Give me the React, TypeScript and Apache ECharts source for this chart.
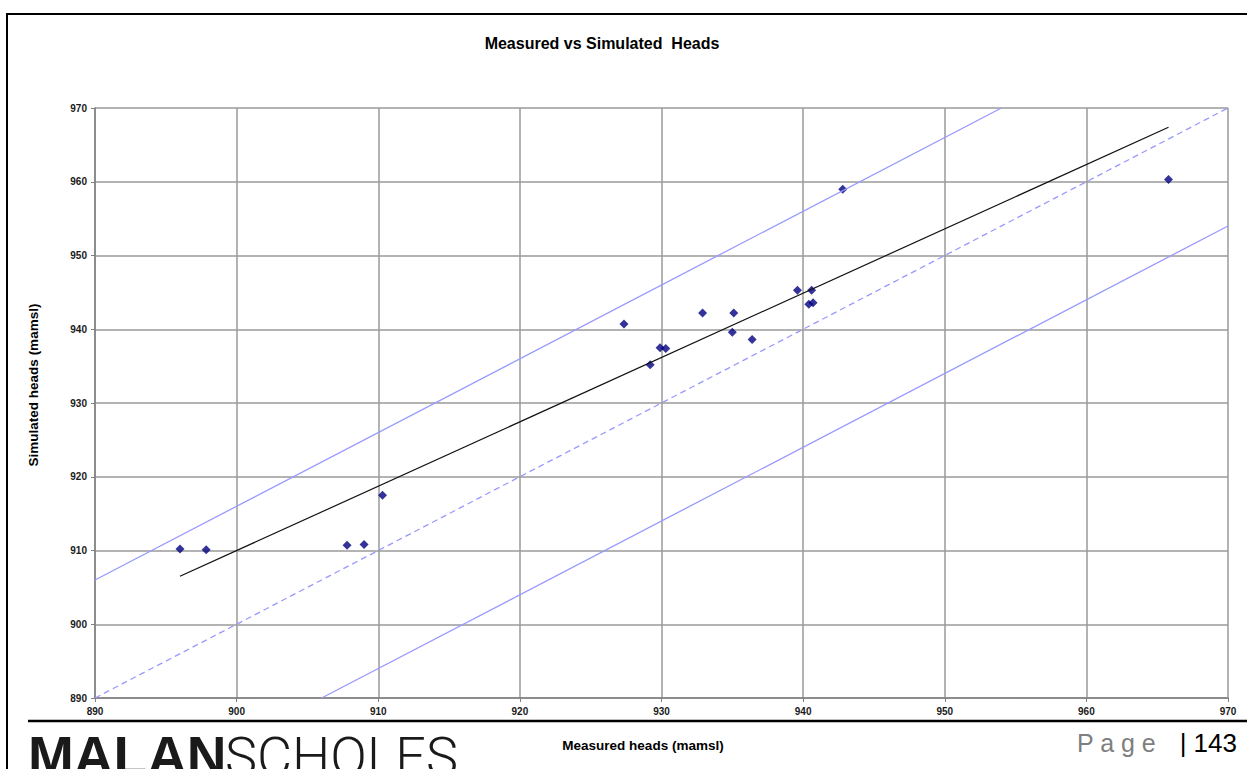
import React, { useEffect, useRef } from "react";
import * as echarts from "echarts";

const measured = [896.0, 897.85, 907.8, 909.0, 910.3, 927.35, 929.2, 929.9, 930.3, 932.9, 935.0, 935.1, 936.4, 939.6, 940.4, 940.6, 940.7, 942.8, 965.8];
const simulated = [910.2, 910.1, 910.7, 910.8, 917.5, 940.7, 935.2, 937.5, 937.4, 942.2, 939.6, 942.2, 938.6, 945.3, 943.4, 945.3, 943.6, 959.0, 960.3];
const trendLine = [[896.0, 906.5], [965.8, 967.4]];
const oneToOneLine = [[890, 890], [970, 970]];
const upperBand = [[890, 906], [954, 970]];
const lowerBand = [[906, 890], [970, 954]];
const axisMin = 890;
const axisMax = 970;
const axisStep = 10;

const FONT = "'Liberation Sans', Arial, sans-serif";

export default function App() {
  const ref = useRef<HTMLDivElement>(null);
  useEffect(() => {
    if (!ref.current) return;
    const chart = echarts.init(ref.current, null, { renderer: "svg" });
    const points = measured.map((m, i) => [m, simulated[i]]);
    const axisCommon = {
      type: "value",
      min: axisMin,
      max: axisMax,
      interval: axisStep,
      axisLine: { show: true, lineStyle: { color: "#808080", width: 1.5 } },
      axisTick: { show: true, length: 4, lineStyle: { color: "#808080", width: 1 } },
      splitLine: { show: true, lineStyle: { color: "#9a9a9a", width: 1.5 } },
      axisLabel: { fontFamily: FONT, fontSize: 10, fontWeight: "bold", color: "#1a1a1a", margin: 8 },
    };
    chart.setOption({
      animation: false,
      backgroundColor: "#ffffff",
      grid: { left: 95, right: 19, top: 108, bottom: 71, show: false },
      xAxis: { ...axisCommon },
      yAxis: { ...axisCommon },
      series: [
        {
          type: "line",
          data: oneToOneLine,
          symbol: "none",
          lineStyle: { color: "#9999ff", width: 1.3, type: [6, 4] },
          silent: true,
        },
        {
          type: "line",
          data: upperBand,
          symbol: "none",
          lineStyle: { color: "#9999ff", width: 1.3 },
          silent: true,
        },
        {
          type: "line",
          data: lowerBand,
          symbol: "none",
          lineStyle: { color: "#9999ff", width: 1.3 },
          silent: true,
        },
        {
          type: "line",
          data: trendLine,
          symbol: "none",
          lineStyle: { color: "#111111", width: 1.2 },
          silent: true,
        },
        {
          type: "scatter",
          data: points,
          symbol: "diamond",
          symbolSize: 9,
          itemStyle: { color: "#000080" },
        },
      ],
      graphic: [
        {
          type: "rect",
          shape: { x: 7, y: 14, width: 1260, height: 800 },
          style: { fill: "none", stroke: "#000", lineWidth: 2 },
          silent: true,
        },
        {
          type: "text",
          x: 602,
          y: 43,
          style: {
            text: "Measured vs Simulated  Heads",
            font: `bold 16px ${FONT}`,
            fill: "#000",
            align: "center",
            verticalAlign: "middle",
          },
        },
        {
          type: "text",
          x: 33,
          y: 385,
          rotation: Math.PI / 2,
          style: {
            text: "Simulated heads (mamsl)",
            font: `bold 13.5px ${FONT}`,
            fill: "#000",
            align: "center",
            verticalAlign: "middle",
          },
        },
        {
          type: "line",
          shape: { x1: 28, y1: 721, x2: 1247, y2: 721 },
          style: { stroke: "#000", lineWidth: 2.5 },
        },
        {
          type: "text",
          x: 643,
          y: 745,
          style: {
            text: "Measured heads (mamsl)",
            font: `bold 13.5px ${FONT}`,
            fill: "#000",
            align: "center",
            verticalAlign: "middle",
          },
        },
        {
          type: "text",
          x: 28,
          y: 756,
          style: {
            text: "MALAN",
            font: `900 55px ${FONT}`,
            fill: "#1a1a1a",
            align: "left",
            verticalAlign: "middle",
          },
        },
        {
          type: "text",
          x: 225,
          y: 756,
          style: {
            text: "SCHOLES",
            font: `300 54px Roboto, 'Open Sans', sans-serif`,
            fill: "#1a1a1a",
            align: "left",
            verticalAlign: "middle",
          },
        },
        {
          type: "text",
          x: 1077,
          y: 743,
          style: {
            text: "P a g e",
            font: `25px ${FONT}`,
            fill: "#7f7f7f",
            align: "left",
            verticalAlign: "middle",
          },
        },
        {
          type: "text",
          x: 1237,
          y: 743,
          style: {
            text: "| 143",
            font: `26px ${FONT}`,
            fill: "#000",
            align: "right",
            verticalAlign: "middle",
          },
        },
      ],
    });
    return () => chart.dispose();
  }, []);
  return (
    <div
      ref={ref}
      style={{ position: "absolute", left: 0, top: 0, width: 1247, height: 769 }}
    />
  );
}
